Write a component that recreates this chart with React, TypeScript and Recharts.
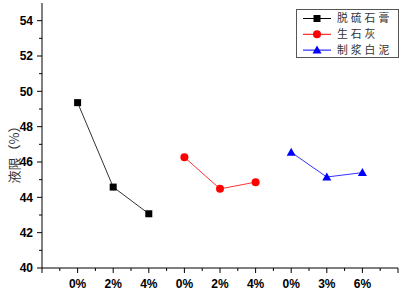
import React from 'react';
import { LineChart, Line, XAxis, YAxis, Legend } from 'recharts';

const categoryLabels = ['0%', '2%', '4%', '0%', '2%', '4%', '0%', '3%', '6%'];
const categoryPositions = [1, 2, 3, 4, 5, 6, 7, 8, 9];
const seriesNames = ['脱硫石膏', '生石灰', '制浆白泥'];
const gypsumValues = [49.36, 44.58, 43.07];
const limeValues = [46.27, 44.48, 44.86];
const mudValues = [46.55, 45.15, 45.4];
const xTicks = [0, 0.5, 1, 1.5, 2, 2.5, 3, 3.5, 4, 4.5, 5, 5.5, 6, 6.5, 7, 7.5, 8, 8.5, 9, 9.5, 10];
const yTicks = [40, 41, 42, 43, 44, 45, 46, 47, 48, 49, 50, 51, 52, 53, 54];
const yLabelTicks = [40, 42, 44, 46, 48, 50, 52, 54];

const gypsumData = gypsumValues.map((v, i) => ({ x: categoryPositions[i], y: v }));
const limeData = limeValues.map((v, i) => ({ x: categoryPositions[i + 3], y: v }));
const mudData = mudValues.map((v, i) => ({ x: categoryPositions[i + 6], y: v }));

const colors = ['#000000', '#ff0000', '#0000ff'];
const tickFont = '"Liberation Sans", Arial, sans-serif';
const cjkFont = '"Noto Sans CJK SC", sans-serif';

const Marker = ({ kind, cx, cy, color }: any) => {
  if (kind === 0) return <rect x={cx - 3.5} y={cy - 3.5} width={7} height={7} fill={color} />;
  if (kind === 1) return <circle cx={cx} cy={cy} r={4} fill={color} />;
  return <polygon points={`${cx},${cy - 4.5} ${cx + 4.5},${cy + 3.5} ${cx - 4.5},${cy + 3.5}`} fill={color} />;
};

const makeDot = (kind: number) => (props: any) => (
  <Marker key={`d-${kind}-${props.index}`} kind={kind} cx={props.cx} cy={props.cy} color={colors[kind]} />
);

const XTick = (props: any) => {
  const { x, y, payload } = props;
  const v = payload.value;
  const major = Number.isInteger(v);
  const idx = categoryPositions.indexOf(v);
  return (
    <g>
      <line x1={x} y1={y} x2={x} y2={y + (major ? 5 : 3)} stroke="#000" strokeWidth={1} />
      {idx >= 0 && (
        <text x={x} y={y + 20} textAnchor="middle" fontFamily={tickFont} fontWeight="bold" fontSize={12} fill="#000">
          {categoryLabels[idx]}
        </text>
      )}
    </g>
  );
};

const YTick = (props: any) => {
  const { x, y, payload } = props;
  const v = payload.value;
  const major = yLabelTicks.includes(v);
  return (
    <g>
      <line x1={x} y1={y} x2={x - (major ? 5 : 3)} y2={y} stroke="#000" strokeWidth={1} />
      {major && (
        <text x={x - 9} y={y} dy="0.36em" textAnchor="end" fontFamily={tickFont} fontWeight="bold" fontSize={12} fill="#000">
          {v}
        </text>
      )}
    </g>
  );
};

const LegendBox = () => (
  <svg width={104} height={50} style={{ display: 'block' }}>
    <rect x={0.5} y={0.5} width={102} height={48} fill="#fff" stroke="#555" strokeWidth={1} />
    {seriesNames.map((name, i) => {
      const cy = 9.5 + i * 15.8;
      return (
        <g key={name}>
          <line x1={7} y1={cy} x2={35} y2={cy} stroke={colors[i]} strokeWidth={1} />
          <Marker kind={i} cx={21} cy={cy} color={colors[i]} />
          <text x={41} y={cy} dy="0.36em" fontFamily={cjkFont} fontSize={10.8} letterSpacing={3} fill="#333">
            {name}
          </text>
        </g>
      );
    })}
  </svg>
);

const YTitle = (props: any) => {
  const { viewBox } = props;
  const cy = viewBox.y + viewBox.height / 2 + 16;
  return (
    <text x={13} y={cy} transform={`rotate(-90, 13, ${cy})`} textAnchor="middle" dominantBaseline="central" fontFamily={cjkFont} fontSize={13} fill="#333">
      液限（%）
    </text>
  );
};

export default function App() {
  return (
    <div style={{ position: 'absolute', left: 0, top: 0, width: 401, height: 294, background: '#fff' }}>
      <LineChart width={401} height={294} margin={{ top: 3, right: 3, bottom: 0, left: 0 }}>
        <XAxis
          type="number"
          dataKey="x"
          height={26}
          domain={[0, 10]}
          ticks={xTicks}
          interval={0}
          tickSize={0}
          tickMargin={0}
          tickLine={false}
          tick={<XTick />}
          axisLine={{ stroke: '#000', strokeWidth: 1 }}
          allowDuplicatedCategory={false}
        />
        <YAxis
          type="number"
          width={42}
          domain={[40, 55]}
          ticks={yTicks}
          interval={0}
          tickSize={0}
          tickMargin={0}
          tickLine={false}
          tick={<YTick />}
          axisLine={{ stroke: '#000', strokeWidth: 1 }}
          label={{ content: <YTitle /> }}
        />
        <Legend
          layout="vertical"
          align="center"
          verticalAlign="middle"
          content={<LegendBox />}
          wrapperStyle={{ left: 296, top: 9, width: 104, height: 50 }}
        />
        <Line data={gypsumData} dataKey="y" name={seriesNames[0]} stroke="#333" strokeWidth={1} dot={makeDot(0)} isAnimationActive={false} />
        <Line data={limeData} dataKey="y" name={seriesNames[1]} stroke="#ff3333" strokeWidth={1} dot={makeDot(1)} isAnimationActive={false} />
        <Line data={mudData} dataKey="y" name={seriesNames[2]} stroke="#3333ff" strokeWidth={1} dot={makeDot(2)} isAnimationActive={false} />
      </LineChart>
    </div>
  );
}
